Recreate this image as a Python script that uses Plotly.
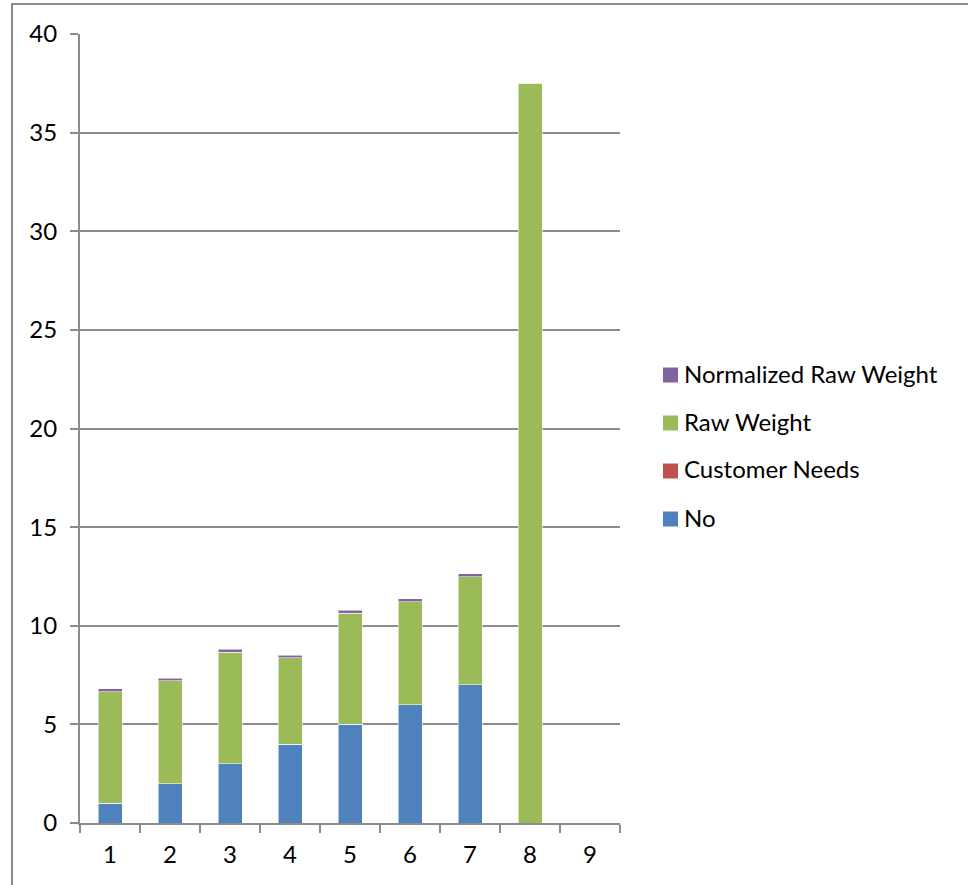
import plotly.graph_objects as go

# Category labels along the x axis
categories = ["1", "2", "3", "4", "5", "6", "7", "8", "9"]

# Stacked series values, bottom to top
no_values = [1, 2, 3, 4, 5, 6, 7, 0, 0]
customer_needs = [0, 0, 0, 0, 0, 0, 0, 0, 0]
raw_weight = [5.66, 5.2, 5.65, 4.38, 5.63, 5.22, 5.49, 37.5, 0]
normalized_raw_weight = [0.15, 0.14, 0.15, 0.12, 0.15, 0.14, 0.15, 0, 0]

# Y axis ticks
y_ticks = [0, 5, 10, 15, 20, 25, 30, 35, 40]

FONT = "Lato, Carlito, 'Open Sans', sans-serif"
GRID = "#8c8c8c"
FONT_SIZE = 24

series = [
    ("No", no_values, "#4F81BD"),
    ("Customer Needs", customer_needs, "#C0504D"),
    ("Raw Weight", raw_weight, "#9BBB59"),
    ("Normalized Raw Weight", normalized_raw_weight, "#8064A2"),
]

fig = go.Figure()
for name, values, color in series:
    fig.add_trace(
        go.Bar(
            x=categories,
            y=values,
            name=name,
            showlegend=False,
            marker=dict(color=color, line=dict(color="rgba(255,255,255,0.55)", width=1)),
        )
    )

W, H = 968, 885
L, R, T, B = 80, 348, 34, 62
pw, ph = W - L - R, H - T - B


def px_x(p):
    return (p - L) / pw


def px_y(p):
    return (H - B - p) / ph


# Legend drawn as swatches + labels, top entry is the last series
shapes = [
    # outer chart frame
    dict(
        type="rect",
        xref="paper",
        yref="paper",
        x0=px_x(12),
        x1=px_x(980),
        y0=px_y(900),
        y1=px_y(4),
        line=dict(color="#8a8a8a", width=2),
        fillcolor="rgba(0,0,0,0)",
        layer="below",
    )
]
annotations = []
legend_top, legend_step, sw = 375, 48, 15
for i, (name, _, color) in enumerate(reversed(series)):
    cy = legend_top + i * legend_step
    shapes.append(
        dict(
            type="rect",
            xref="paper",
            yref="paper",
            x0=px_x(663),
            x1=px_x(663 + sw),
            y0=px_y(cy + sw / 2),
            y1=px_y(cy - sw / 2),
            line=dict(width=0),
            fillcolor=color,
        )
    )
    annotations.append(
        dict(
            xref="paper",
            yref="paper",
            x=px_x(682),
            y=px_y(cy - 2),
            xanchor="left",
            yanchor="middle",
            text=name,
            showarrow=False,
            font=dict(family=FONT, size=FONT_SIZE, color="#000000"),
        )
    )

fig.update_layout(
    width=W,
    height=H,
    margin=dict(l=L, r=R, t=T, b=B, pad=0),
    barmode="stack",
    bargap=0.6,
    paper_bgcolor="white",
    plot_bgcolor="white",
    font=dict(family=FONT, size=FONT_SIZE, color="#000000"),
    showlegend=False,
    xaxis=dict(
        type="category",
        range=[-0.5, 8.5],
        showline=True,
        linecolor=GRID,
        linewidth=2,
        ticks="outside",
        tickson="boundaries",
        ticklen=8,
        tickwidth=2,
        tickcolor=GRID,
        ticklabelstandoff=9,
        showgrid=False,
        tickfont=dict(family=FONT, size=FONT_SIZE, color="#000000"),
    ),
    yaxis=dict(
        range=[0, 40],
        tickvals=y_ticks,
        showline=True,
        linecolor=GRID,
        linewidth=2,
        ticks="outside",
        ticklen=8,
        tickwidth=2,
        tickcolor=GRID,
        ticklabelstandoff=8,
        showgrid=True,
        gridcolor=GRID,
        gridwidth=2,
        zeroline=False,
        tickfont=dict(family=FONT, size=FONT_SIZE, color="#000000"),
    ),
    shapes=shapes,
    annotations=annotations,
)

fig.write_html("out.html")
